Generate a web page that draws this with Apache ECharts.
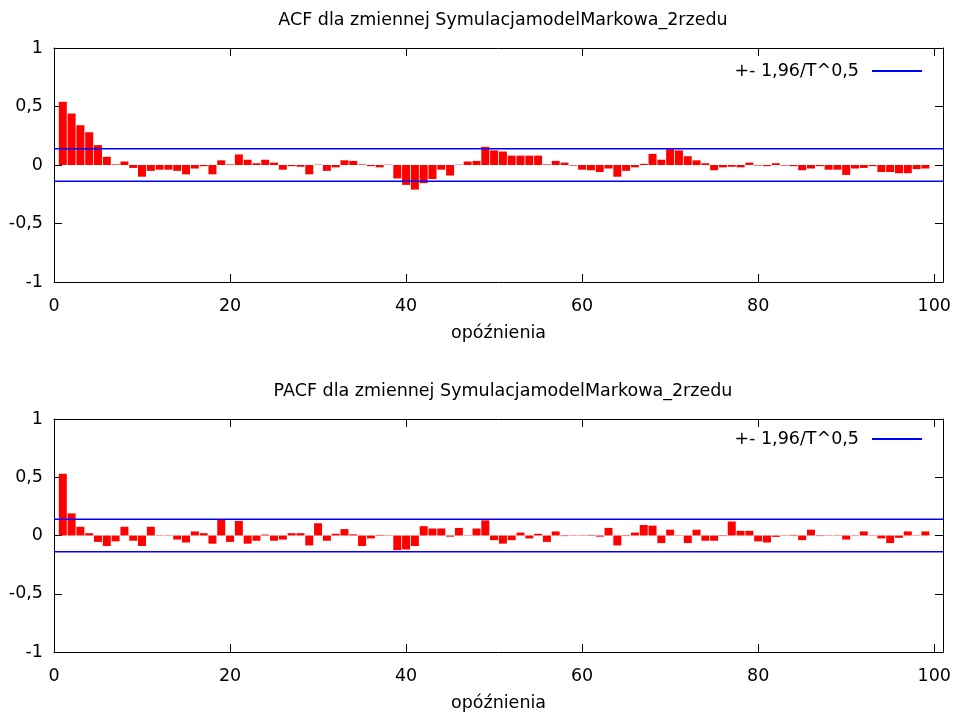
<!DOCTYPE html>
<html>
<head>
<meta charset="utf-8">
<script src="https://cdn.jsdelivr.net/npm/echarts@6/dist/echarts.min.js"></script>
<style>
  html, body { margin: 0; padding: 0; background: #fff; }
  #main { width: 956px; height: 713px; }
</style>
</head>
<body>
<div id="main"></div>
<script>
// dane (opóźnienia 1..99)
var lags = [];
for (var i = 1; i <= 99; i++) lags.push(i);

var acfValues = [
  0.54, 0.44, 0.34, 0.28, 0.17, 0.07, 0.005, 0.03, -0.025, -0.10,
  -0.05, -0.04, -0.04, -0.05, -0.08, -0.03, -0.01, -0.08, 0.04, 0.005,
  0.09, 0.045, 0.015, 0.045, 0.02, -0.04, -0.01, -0.015, -0.08, 0.003,
  -0.05, -0.02, 0.04, 0.035, 0.005, -0.01, -0.02, 0.003, -0.115, -0.17,
  -0.21, -0.155, -0.12, -0.04, -0.09, 0.003, 0.03, 0.035, 0.155, 0.125,
  0.115, 0.08, 0.08, 0.08, 0.08, 0.005, 0.035, 0.02, -0.005, -0.04,
  -0.045, -0.06, -0.03, -0.10, -0.05, -0.02, 0.01, 0.095, 0.045, 0.135,
  0.125, 0.075, 0.04, 0.015, -0.045, -0.02, -0.015, -0.02, 0.02, -0.005,
  -0.01, 0.015, -0.005, -0.01, -0.045, -0.03, -0.01, -0.04, -0.04, -0.085,
  -0.03, -0.025, -0.01, -0.06, -0.06, -0.07, -0.07, -0.035, -0.03
];

var pacfValues = [
  0.53, 0.19, 0.075, 0.02, -0.055, -0.09, -0.05, 0.075, -0.045, -0.09,
  0.075, 0.003, 0.003, -0.035, -0.06, 0.035, 0.02, -0.07, 0.135, -0.055,
  0.125, -0.07, -0.045, 0.008, -0.045, -0.035, 0.02, 0.02, -0.085, 0.105,
  -0.045, 0.015, 0.055, 0.01, -0.09, -0.025, 0.005, 0.003, -0.125, -0.12,
  -0.09, 0.08, 0.06, 0.06, -0.01, 0.065, 0.003, 0.06, 0.13, -0.04,
  -0.07, -0.04, 0.025, -0.025, 0.015, -0.055, 0.035, -0.005, 0.003, 0.003,
  0.005, -0.01, 0.065, -0.085, -0.005, 0.025, 0.09, 0.085, -0.065, 0.05,
  0.003, -0.065, 0.05, -0.045, -0.045, -0.005, 0.12, 0.04, 0.04, -0.05,
  -0.06, -0.012, 0.003, 0.005, -0.04, 0.05, -0.005, 0.003, 0.003, -0.035,
  0.003, 0.035, 0.003, -0.025, -0.065, -0.02, 0.035, 0.003, 0.035
];

var band = 0.1386; // +- 1,96/T^0,5
var bandName = '+- 1,96/T^0,5';
var xTicks = [0, 20, 40, 60, 80, 100];
var yTicks = [-1, -0.5, 0, 0.5, 1];

var myChart = echarts.init(document.getElementById('main'));

var font = 'DejaVu Sans';
var fs = 17.5;
var grids = [
  { left: 54, right: 13, top: 48, height: 234 },
  { left: 54, right: 13, top: 419, height: 234 }
];
var titles = [
  'ACF dla zmiennej SymulacjamodelMarkowa_2rzedu',
  'PACF dla zmiennej SymulacjamodelMarkowa_2rzedu'
];
var tickStyle = { show: true, inside: true, length: 8, lineStyle: { color: '#000' } };
var lineStyle = { show: true, onZero: false, lineStyle: { color: '#000', width: 1 } };

function pairs(values) {
  return values.map(function (v, i) { return [lags[i], v]; });
}

var xAxes = [], yAxes = [], series = [], titleList = [], legends = [];
[acfValues, pacfValues].forEach(function (values, g) {
  xAxes.push({
    type: 'value', gridIndex: g, min: 0, max: 101, interval: 20,
    axisLine: lineStyle, axisTick: tickStyle, splitLine: { show: false },
    axisLabel: {
      color: '#000', fontFamily: font, fontSize: fs, margin: 15,
      formatter: function (v) { return xTicks.indexOf(v) >= 0 ? String(v) : ''; }
    },
    name: 'opóźnienia', nameLocation: 'middle', nameGap: 42,
    nameTextStyle: { color: '#000', fontFamily: font, fontSize: fs }
  });
  xAxes.push({
    type: 'value', gridIndex: g, position: 'top', min: 0, max: 101, interval: 20,
    axisLine: lineStyle, axisTick: tickStyle, axisLabel: { show: false },
    splitLine: { show: false }
  });
  yAxes.push({
    type: 'value', gridIndex: g, min: -1, max: 1, interval: 0.5,
    axisLine: lineStyle, axisTick: tickStyle, splitLine: { show: false },
    axisLabel: {
      color: '#000', fontFamily: font, fontSize: fs, margin: 11,
      formatter: function (v) { return yTicks.indexOf(v) >= 0 ? String(v).replace('.', ',') : ''; }
    }
  });
  yAxes.push({
    type: 'value', gridIndex: g, position: 'right', min: -1, max: 1, interval: 0.5,
    axisLine: lineStyle, axisTick: tickStyle, axisLabel: { show: false },
    splitLine: { show: false }
  });
  titleList.push({
    text: titles[g], left: 498, top: g === 0 ? 6 : 377, textAlign: 'center',
    textStyle: { color: '#000', fontFamily: font, fontSize: fs, fontWeight: 'normal' }
  });
  legends.push({
    data: [{ name: bandName, icon: 'rect' }], right: 29, top: g === 0 ? 57 : 425, align: 'right',
    itemWidth: 50, itemHeight: 2, itemGap: 0,
    textStyle: { color: '#000', fontFamily: font, fontSize: fs, padding: [0, 8, 0, 0] }
  });
  series.push({
    type: 'bar', xAxisIndex: g * 2, yAxisIndex: g * 2,
    barWidth: 8, itemStyle: { color: '#ff0000' },
    data: pairs(values), silent: true
  });
  [band, -band].forEach(function (b) {
    series.push({
      name: bandName, type: 'line', xAxisIndex: g * 2, yAxisIndex: g * 2,
      symbol: 'none', silent: true,
      lineStyle: { color: '#0000ff', width: 1.5 },
      itemStyle: { color: '#0000ff' },
      data: [[0, b], [101, b]]
    });
  });
});

var option = {
  backgroundColor: '#fff',
  animation: false,
  title: titleList,
  legend: legends,
  grid: grids,
  xAxis: xAxes,
  yAxis: yAxes,
  series: series
};
myChart.setOption(option);
</script>
</body>
</html>
